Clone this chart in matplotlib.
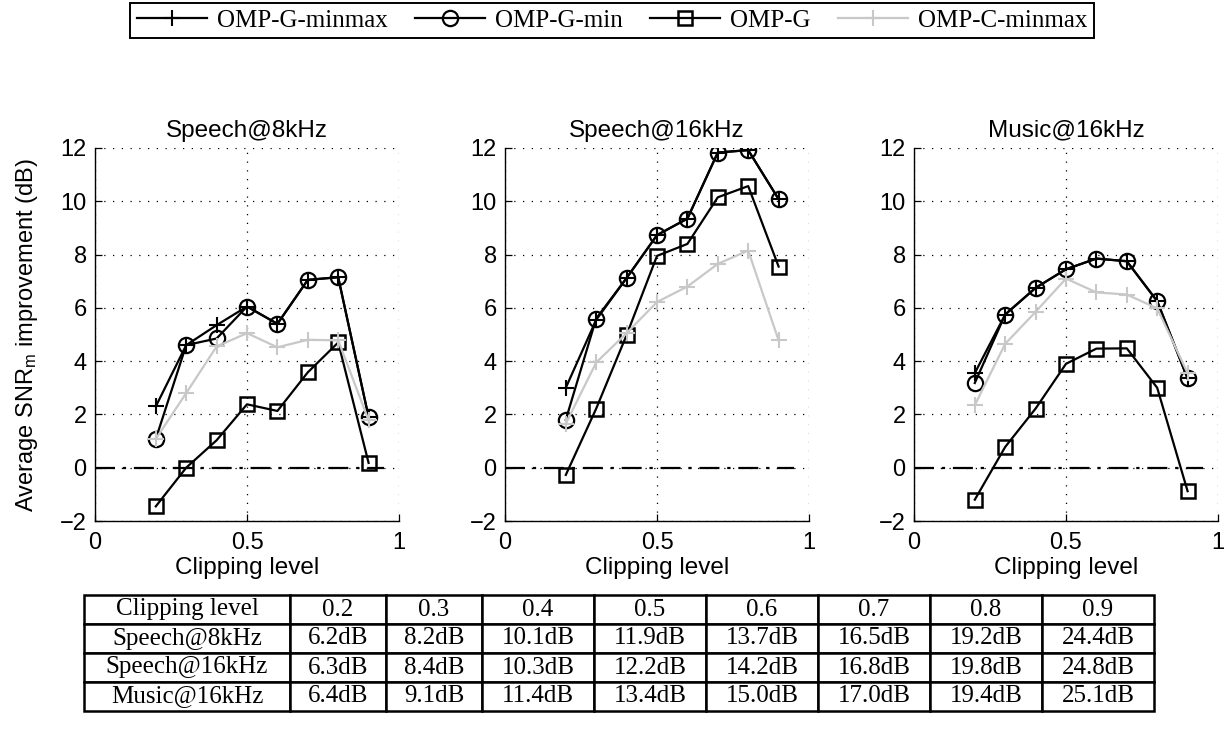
import matplotlib
matplotlib.use('Agg')
import matplotlib.pyplot as plt

plt.rcParams['font.family'] = ['Liberation Sans', 'DejaVu Sans']
plt.rcParams['mathtext.fontset'] = 'custom'
plt.rcParams['mathtext.rm'] = 'Liberation Sans'
plt.rcParams['mathtext.it'] = 'Liberation Sans:italic'
plt.rcParams['axes.unicode_minus'] = True

# ---------------- data ----------------
clip = [0.2, 0.3, 0.4, 0.5, 0.6, 0.7, 0.8, 0.9]

titles = ['Speech@8kHz', 'Speech@16kHz', 'Music@16kHz']
series_names = ['OMP-G-minmax', 'OMP-G-min', 'OMP-G', 'OMP-C-minmax']

s8_minmax = [2.3, 4.6, 5.35, 6.05, 5.4, 7.05, 7.15, 1.9]
s8_min = [1.08, 4.6, 4.85, 6.05, 5.4, 7.05, 7.15, 1.9]
s8_g = [-1.45, 0.0, 1.03, 2.38, 2.13, 3.58, 4.7, 0.18]
s8_c = [1.08, 2.8, 4.55, 5.05, 4.52, 4.8, 4.78, 1.78]

s16_minmax = [3.0, 5.55, 7.12, 8.73, 9.35, 11.83, 11.92, 10.08]
s16_min = [1.8, 5.6, 7.12, 8.73, 9.35, 11.83, 11.92, 10.08]
s16_g = [-0.27, 2.22, 4.98, 7.95, 8.4, 10.15, 10.57, 7.55]
s16_c = [1.65, 3.95, 5.05, 6.22, 6.8, 7.65, 8.15, 4.78]

m16_minmax = [3.55, 5.75, 6.75, 7.45, 7.85, 7.75, 6.25, 3.35]
m16_min = [3.18, 5.75, 6.75, 7.45, 7.85, 7.75, 6.25, 3.35]
m16_g = [-1.2, 0.78, 2.22, 3.9, 4.47, 4.48, 3.0, -0.88]
m16_c = [2.35, 4.65, 5.85, 7.1, 6.58, 6.5, 5.98, 3.55]

panels = [
    (s8_minmax, s8_min, s8_g, s8_c),
    (s16_minmax, s16_min, s16_g, s16_c),
    (m16_minmax, m16_min, m16_g, m16_c),
]

xticks = [0, 0.5, 1]
xticklabels = ['0', '0.5', '1']
yticks = [-2, 0, 2, 4, 6, 8, 10, 12]
yticklabels = ['\u22122', '0', '2', '4', '6', '8', '10', '12']

table_header = ['Clipping level', '0.2', '0.3', '0.4', '0.5', '0.6', '0.7', '0.8', '0.9']
table_rows = ['Speech@8kHz', 'Speech@16kHz', 'Music@16kHz']
table_s8 = [6.2, 8.2, 10.1, 11.9, 13.7, 16.5, 19.2, 24.4]
table_s16 = [6.3, 8.4, 10.3, 12.2, 14.2, 16.8, 19.8, 24.8]
table_m16 = [6.4, 9.1, 11.4, 13.4, 15.0, 17.0, 19.4, 25.1]

# ---------------- figure ----------------
W, H = 1231, 731
fig = plt.figure(figsize=(W / 100, H / 100), dpi=100)

gray = '#c8c8c8'
lefts = [95, 505, 914]
axes = []
for i, (left, title, data) in enumerate(zip(lefts, titles, panels)):
    ax = fig.add_axes([left / W, 1 - 521 / H, 304 / W, 373 / H])
    mm, mn, g, c = data
    ax.plot(clip, mm, color='k', marker='+', ms=12, mew=1.5, lw=1.6,
            label=series_names[0], zorder=3)
    ax.plot(clip, mn, color='k', marker='o', mfc='none', ms=11, mew=1.6, lw=1.6,
            label=series_names[1], zorder=3)
    ax.plot(clip, g, color='k', marker='s', mfc='none', ms=9.5, mew=1.8, lw=1.6,
            label=series_names[2], zorder=3)
    ax.plot(clip, c, color=gray, marker='+', ms=12, mew=1.5, lw=1.6,
            label=series_names[3], zorder=4)
    ax.plot([0, 0.95], [0, 0], color='k', lw=1.6, linestyle=(0, (9, 3.5, 1.5, 3.5)), zorder=2)
    ax.set_xlim(0, 1)
    ax.set_ylim(-2, 12)
    ax.set_xticks(xticks)
    ax.set_xticklabels(xticklabels)
    ax.set_yticks(yticks)
    ax.set_yticklabels(yticklabels)
    ax.grid(True, color='k', linestyle=(0, (1, 6)), lw=0.9)
    ax.spines['top'].set_visible(False)
    ax.spines['right'].set_visible(False)
    for s in ('left', 'bottom'):
        ax.spines[s].set_linewidth(1.0)
    ax.tick_params(axis='both', direction='in', length=5, width=0.9, labelsize=17)
    ax.tick_params(axis='x', pad=8)
    ax.tick_params(axis='y', pad=6)
    ax.set_title(title, fontsize=17.5, pad=8)
    ax.set_xlabel('Clipping level', fontsize=17.5, labelpad=2)
    axes.append(ax)

axes[0].set_ylabel('Average SNR$_\\mathrm{m}$ improvement (dB)', fontsize=17, labelpad=14)

# ---------------- legend ----------------
handles, labels = axes[0].get_legend_handles_labels()
leg = fig.legend(handles, labels, ncol=4, loc='upper center',
                 bbox_to_anchor=(612 / W, 1 - 3 / H),
                 prop={'family': 'Liberation Serif', 'size': 18},
                 frameon=True, fancybox=False, edgecolor='k', framealpha=1,
                 handlelength=2.8, handletextpad=0.4, columnspacing=1.1,
                 borderpad=0.25, borderaxespad=0)
leg.get_frame().set_linewidth(1.4)

# ---------------- table ----------------
cell_text = [table_header]
for name, vals in zip(table_rows, [table_s8, table_s16, table_m16]):
    cell_text.append([name] + ['%.1fdB' % v for v in vals])

col_w = [206, 96, 96, 112, 112, 112, 112, 112, 112]
tot = float(sum(col_w))
tax = fig.add_axes([84 / W, 1 - 711 / H, tot / W, 116 / H])
tax.axis('off')
tbl = tax.table(cellText=cell_text, colWidths=[w / tot for w in col_w],
                cellLoc='center', bbox=[0, 0, 1, 1])
tbl.auto_set_font_size(False)
for cell in tbl.get_celld().values():
    cell.set_linewidth(1.8)
    cell.set_edgecolor('k')
    cell.get_text().set_fontfamily('Liberation Serif')
    cell.get_text().set_fontsize(18)

fig.savefig('out.png', dpi=100)
